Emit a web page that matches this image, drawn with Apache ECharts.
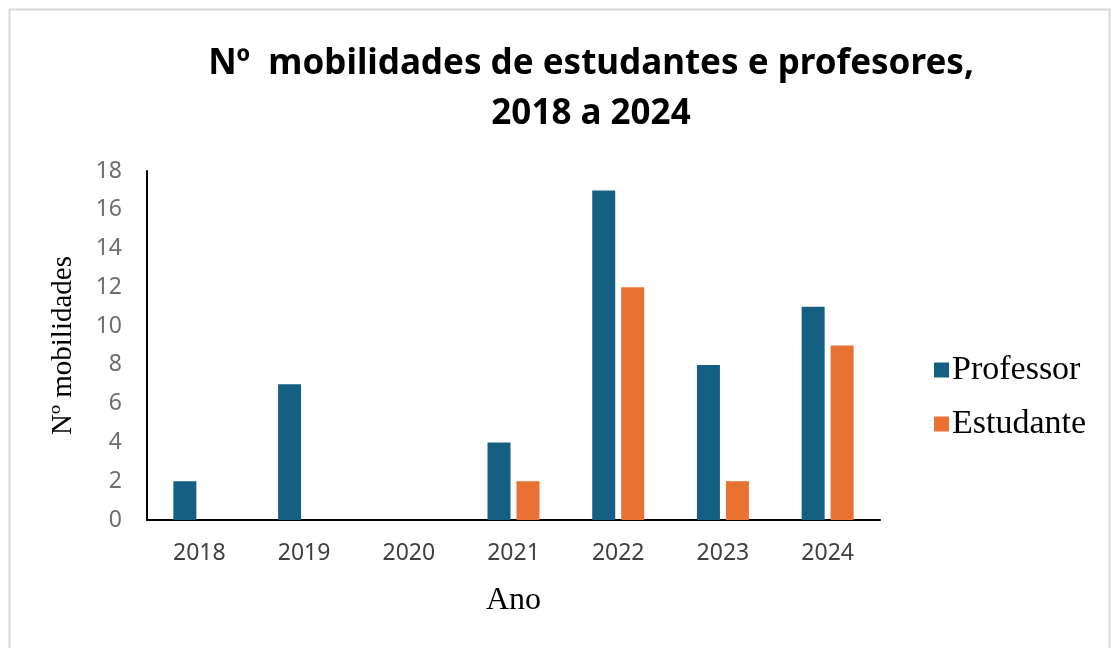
<!DOCTYPE html>
<html>
<head>
<meta charset="utf-8">
<script src="https://cdn.jsdelivr.net/npm/echarts@6/dist/echarts.min.js"></script>
<style>
  html, body { margin: 0; padding: 0; background: #fff; }
  #chart { width: 1116px; height: 648px; }
</style>
</head>
<body>
<div id="chart"></div>
<script>
// data
var anos = ["2018", "2019", "2020", "2021", "2022", "2023", "2024"];
var professor = [2, 7, 0, 4, 17, 8, 11];
var estudante = [0, 0, 0, 2, 12, 2, 9];
var yTicks = { min: 0, max: 18, step: 2 };

var chart = echarts.init(document.getElementById("chart"));
var sans = "'Noto Sans', 'Open Sans', sans-serif";
var serif = "'Liberation Serif', 'DejaVu Serif', serif";

chart.setOption({
  backgroundColor: "#fff",
  animation: false,
  graphic: [{
    type: "rect",
    shape: { x: 9.5, y: 9.5, width: 1100, height: 700 },
    style: { fill: "none", stroke: "#d9d9d9", lineWidth: 2 },
    silent: true
  }],
  title: {
    text: "Nº  mobilidades de estudantes e profesores,\n2018 a 2024",
    left: 586,
    top: 34,
    textAlign: "center",
    textStyle: {
      fontFamily: sans,
      fontWeight: "bold",
      fontSize: 35,
      lineHeight: 50,
      color: "#000"
    }
  },
  legend: {
    orient: "vertical",
    left: 929,
    top: 348,
    itemWidth: 15,
    itemHeight: 15,
    itemGap: 20,
    icon: "rect",
    textStyle: { fontFamily: serif, fontSize: 34, color: "#000", padding: [0, 0, 0, -2] },
    data: ["Professor", "Estudante"]
  },
  grid: { left: 147, right: 236, top: 171, bottom: 128 },
  xAxis: {
    type: "category",
    data: anos,
    name: "Ano",
    nameLocation: "middle",
    nameGap: 65,
    nameTextStyle: { fontFamily: serif, fontSize: 32, color: "#000" },
    axisLine: { lineStyle: { color: "#000", width: 2 } },
    axisTick: { show: false },
    axisLabel: { margin: 22, fontFamily: sans, fontSize: 23, color: "#404040" }
  },
  yAxis: {
    type: "value",
    min: yTicks.min,
    max: yTicks.max,
    interval: yTicks.step,
    name: "Nº mobilidades",
    nameLocation: "middle",
    nameGap: 69,
    nameTextStyle: { fontFamily: serif, fontSize: 29, color: "#000" },
    axisLine: { show: true, lineStyle: { color: "#000", width: 2 } },
    axisTick: { show: false },
    splitLine: { show: false },
    axisLabel: { margin: 25, fontFamily: sans, fontSize: 23, color: "#6e6e6e" }
  },
  series: [
    {
      name: "Professor",
      type: "bar",
      data: professor,
      barWidth: 23,
      barGap: "26%",
      itemStyle: { color: "#156082" }
    },
    {
      name: "Estudante",
      type: "bar",
      data: estudante,
      barWidth: 23,
      itemStyle: { color: "#E97132" }
    }
  ]
});
</script>
</body>
</html>
